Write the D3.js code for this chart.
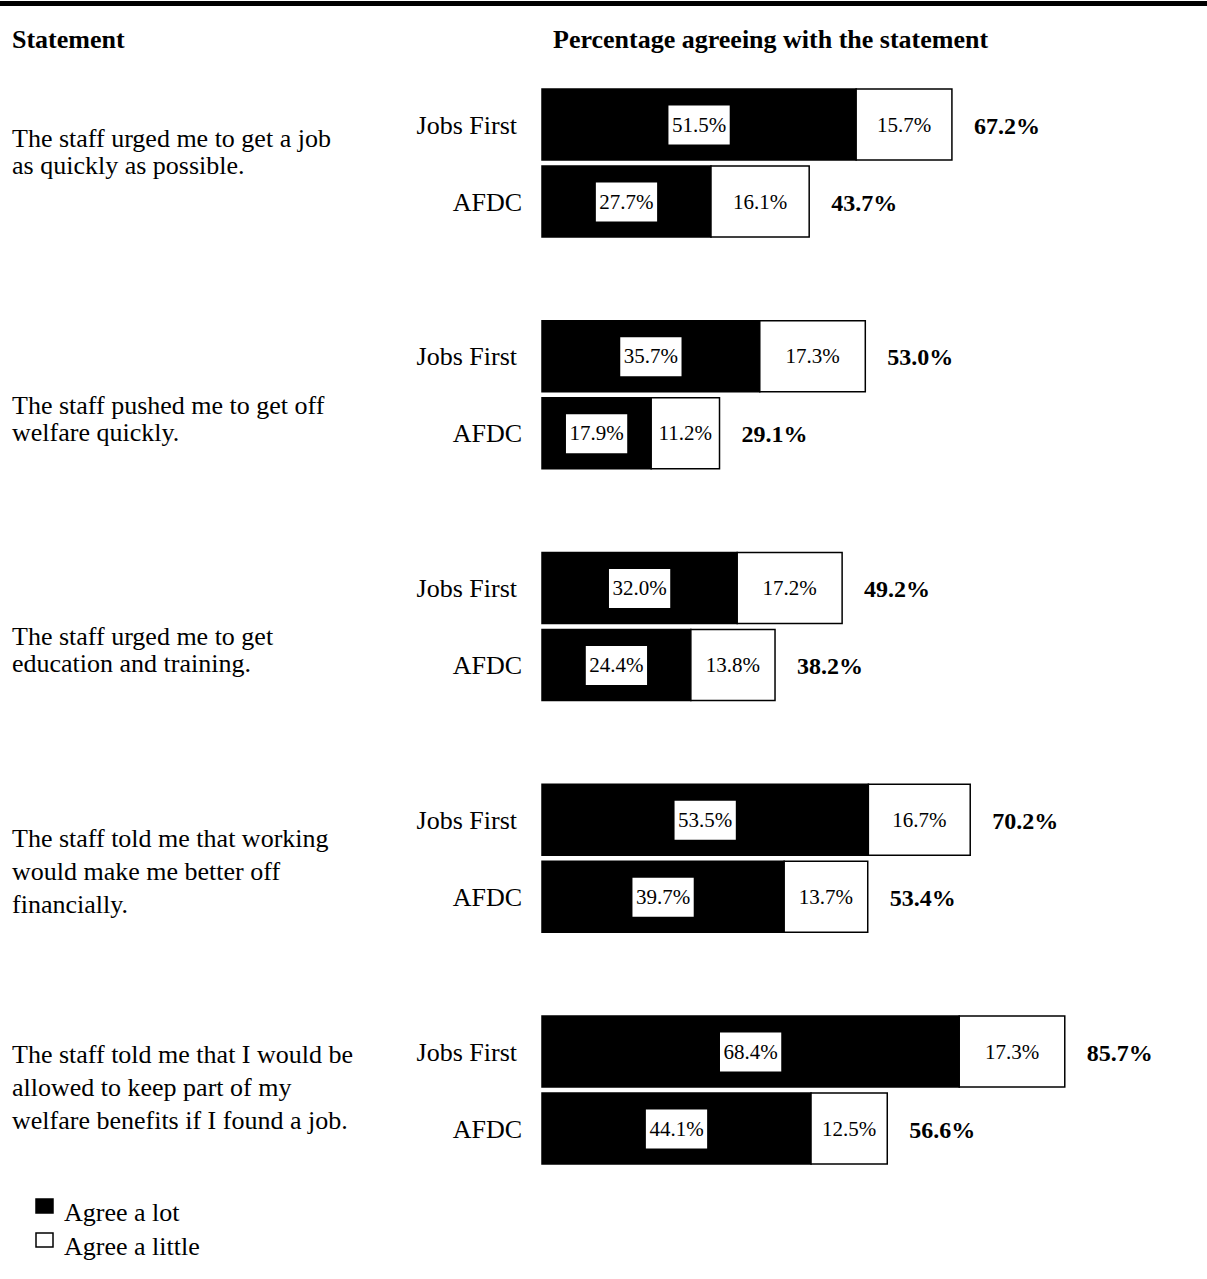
<!DOCTYPE html>
<html>
<head>
<meta charset="utf-8">
<script src="https://cdn.jsdelivr.net/npm/d3@7"></script>
<style>
  html, body { margin: 0; padding: 0; background: #fff; }
  svg { display: block; }
  text { font-family: "Liberation Serif", "Times New Roman", Times, serif; fill: #000; }
</style>
</head>
<body>
<div id="chart"></div>
<script>
// ---------- data ----------
const statements = [
  ["The staff urged me to get a job", "as quickly as possible."],
  ["The staff pushed me to get off", "welfare quickly."],
  ["The staff urged me to get", "education and training."],
  ["The staff told me that working", "would make me better off", "financially."],
  ["The staff told me that I would be", "allowed to keep part of my", "welfare benefits if I found a job."]
];
const programs = ["Jobs First", "AFDC"];
const jobsFirstLot    = [51.5, 35.7, 32.0, 53.5, 68.4];
const jobsFirstLittle = [15.7, 17.3, 17.2, 16.7, 17.3];
const jobsFirstTotal  = [67.2, 53.0, 49.2, 70.2, 85.7];
const afdcLot    = [27.7, 17.9, 24.4, 39.7, 44.1];
const afdcLittle = [16.1, 11.2, 13.8, 13.7, 12.5];
const afdcTotal  = [43.7, 29.1, 38.2, 53.4, 56.6];
const legendLabels = ["Agree a lot", "Agree a little"];
const headerLeft = "Statement";
const headerRight = "Percentage agreeing with the statement";

// ---------- layout ----------
const W = 1207, H = 1279;
const textOffset = [58, 93, 92, 63, 47];   // baseline of first statement line from group top
const lineStep   = [27, 27, 27, 33, 33];
const barH = 71, barGap = 6;

const svg = d3.select("#chart").append("svg").attr("width", W).attr("height", H);

const x = d3.scaleLinear().domain([0, 100]).range([542, 1152]);
const groupY = d3.scaleBand().domain(d3.range(statements.length)).range([89, 89 + 5 * 231.75]).paddingInner(0).paddingOuter(0);
const rowY = d3.scaleOrdinal().domain(programs).range([0, barH + barGap]);

// top rule
svg.append("rect").attr("x", 0).attr("y", 1).attr("width", W).attr("height", 5).attr("fill", "#000");

// headers
svg.append("text").attr("x", 12).attr("y", 48).attr("font-size", 26).attr("font-weight", "bold").text(headerLeft);
svg.append("text").attr("x", 553).attr("y", 48).attr("font-size", 26).attr("font-weight", "bold").text(headerRight);

const rows = [];
statements.forEach((s, i) => {
  rows.push({ g: i, prog: programs[0], lot: jobsFirstLot[i], little: jobsFirstLittle[i], total: jobsFirstTotal[i] });
  rows.push({ g: i, prog: programs[1], lot: afdcLot[i], little: afdcLittle[i], total: afdcTotal[i] });
});

// statement texts
statements.forEach((lines, i) => {
  const t = svg.append("text").attr("font-size", 26);
  lines.forEach((ln, j) => {
    t.append("tspan").attr("x", 12).attr("y", groupY(i) + textOffset[i] + j * lineStep[i]).text(ln);
  });
});

const fmt = v => v.toFixed(1) + "%";

rows.forEach(r => {
  const y0 = groupY(r.g) + rowY(r.prog);
  const cy = y0 + barH / 2;
  const g = svg.append("g");
  // program label
  g.append("text")
    .attr("x", r.prog === programs[0] ? 517 : 522)
    .attr("y", cy + 9)
    .attr("text-anchor", "end")
    .attr("font-size", 26)
    .text(r.prog);
  // black segment
  g.append("rect")
    .attr("x", x(0)).attr("y", y0)
    .attr("width", x(r.lot) - x(0)).attr("height", barH)
    .attr("fill", "#000").attr("stroke", "#000").attr("stroke-width", 1.5);
  // white segment
  g.append("rect")
    .attr("x", x(r.lot)).attr("y", y0)
    .attr("width", x(r.lot + r.little) - x(r.lot)).attr("height", barH)
    .attr("fill", "#fff").attr("stroke", "#000").attr("stroke-width", 1.5);
  // label in black segment with white box
  const cxB = (x(0) + x(r.lot)) / 2;
  const lbl = g.append("text")
    .attr("x", cxB).attr("y", cy + 7)
    .attr("text-anchor", "middle").attr("font-size", 21)
    .text(fmt(r.lot));
  const bw = lbl.node().getComputedTextLength() + 7;
  g.insert("rect", function() { return lbl.node(); })
    .attr("x", cxB - bw / 2).attr("y", cy - 19)
    .attr("width", bw).attr("height", 39)
    .attr("fill", "#fff");
  // label in white segment
  g.append("text")
    .attr("x", (x(r.lot) + x(r.lot + r.little)) / 2).attr("y", cy + 7)
    .attr("text-anchor", "middle").attr("font-size", 21)
    .text(fmt(r.little));
  // total
  g.append("text")
    .attr("x", x(r.lot + r.little) + 22).attr("y", cy + 9)
    .attr("font-size", 24).attr("font-weight", "bold")
    .text(fmt(r.total));
});

// legend
const leg = svg.append("g");
legendLabels.forEach((lab, i) => {
  const ly = 1199 + i * 34;
  leg.append("rect").attr("x", 36).attr("y", ly).attr("width", 17).attr("height", 14)
    .attr("fill", i === 0 ? "#000" : "#fff").attr("stroke", "#000").attr("stroke-width", 1.5);
  leg.append("text").attr("x", 64).attr("y", ly + 22).attr("font-size", 26).text(lab);
});
</script>
</body>
</html>
